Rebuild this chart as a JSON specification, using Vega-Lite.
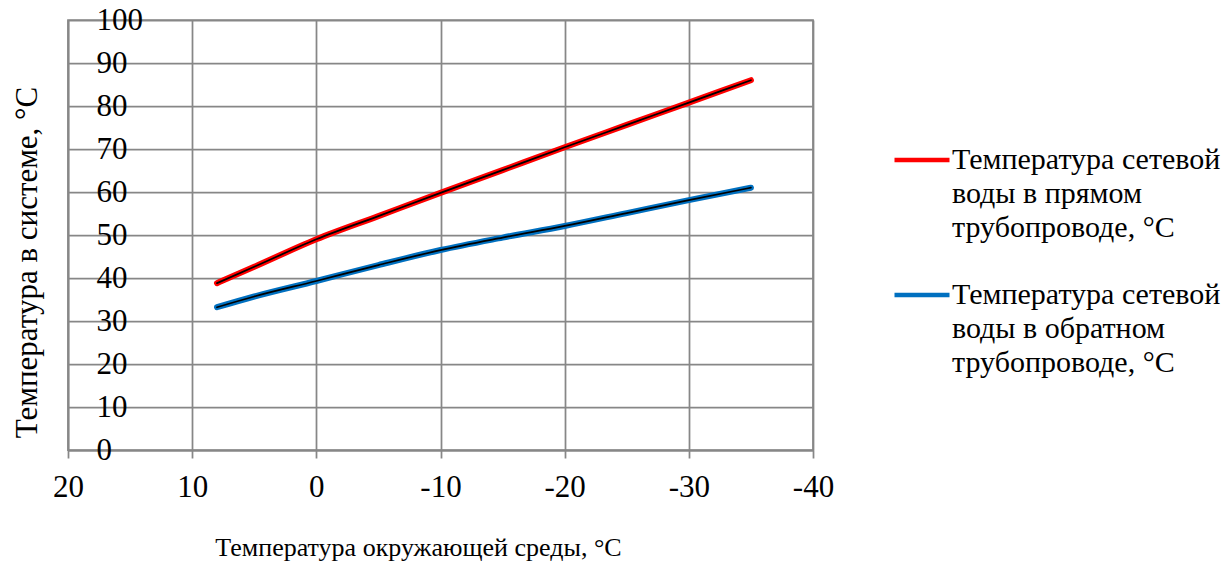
{
  "$schema": "https://vega.github.io/schema/vega-lite/v6.json",
  "width": 745,
  "height": 430,
  "autosize": {"type": "none"},
  "padding": {"left": 68, "top": 20, "right": 419, "bottom": 114},
  "background": "white",
  "config": {
    "font": "Liberation Serif",
    "axis": {"labelFont": "Liberation Serif", "titleFont": "Liberation Serif"},
    "legend": {"labelFont": "Liberation Serif", "titleFont": "Liberation Serif"},
    "view": {"stroke": "#878787", "strokeWidth": 1.75},
    "style": {"guide-label": {"lineHeight": 34}}
  },
  "data": {
    "values": [
      {"t": 8, "v": 38.8, "s": "Температура сетевой воды в прямом трубопроводе, °C"},
      {"t": 5, "v": 42.6, "s": "Температура сетевой воды в прямом трубопроводе, °C"},
      {"t": 0, "v": 49.0, "s": "Температура сетевой воды в прямом трубопроводе, °C"},
      {"t": -5, "v": 54.4, "s": "Температура сетевой воды в прямом трубопроводе, °C"},
      {"t": -10, "v": 59.8, "s": "Температура сетевой воды в прямом трубопроводе, °C"},
      {"t": -15, "v": 65.1, "s": "Температура сетевой воды в прямом трубопроводе, °C"},
      {"t": -20, "v": 70.4, "s": "Температура сетевой воды в прямом трубопроводе, °C"},
      {"t": -25, "v": 75.6, "s": "Температура сетевой воды в прямом трубопроводе, °C"},
      {"t": -30, "v": 80.8, "s": "Температура сетевой воды в прямом трубопроводе, °C"},
      {"t": -35, "v": 86.0, "s": "Температура сетевой воды в прямом трубопроводе, °C"},
      {"t": 8, "v": 33.2, "s": "Температура сетевой воды в обратном трубопроводе, °C"},
      {"t": 5, "v": 35.7, "s": "Температура сетевой воды в обратном трубопроводе, °C"},
      {"t": 0, "v": 39.3, "s": "Температура сетевой воды в обратном трубопроводе, °C"},
      {"t": -5, "v": 43.0, "s": "Температура сетевой воды в обратном трубопроводе, °C"},
      {"t": -10, "v": 46.5, "s": "Температура сетевой воды в обратном трубопроводе, °C"},
      {"t": -15, "v": 49.4, "s": "Температура сетевой воды в обратном трубопроводе, °C"},
      {"t": -20, "v": 52.1, "s": "Температура сетевой воды в обратном трубопроводе, °C"},
      {"t": -25, "v": 55.1, "s": "Температура сетевой воды в обратном трубопроводе, °C"},
      {"t": -30, "v": 58.1, "s": "Температура сетевой воды в обратном трубопроводе, °C"},
      {"t": -35, "v": 61.0, "s": "Температура сетевой воды в обратном трубопроводе, °C"}
    ]
  },
  "encoding": {
    "x": {
      "field": "t", "type": "quantitative",
      "scale": {"domain": [-40, 20], "reverse": true, "nice": false, "zero": false},
      "axis": {
        "title": "Температура окружающей среды, °C",
        "values": [20, 10, 0, -10, -20, -30, -40],
        "labelExpr": "'' + datum.value",
        "labelFontSize": 31, "labelColor": "black", "labelBaseline": "top",
        "labelPadding": 14, "tickSize": 8, "tickColor": "#878787", "tickWidth": 1.75,
        "labelFlush": false, "labelOverlap": false,
        "domainColor": "#878787", "domainWidth": 1.75,
        "gridColor": "#878787", "gridWidth": 1.75, "gridOpacity": 1,
        "titleFontSize": 26, "titleFontWeight": "normal", "titleColor": "black",
        "titleX": 350, "titleY": 97, "titleBaseline": "middle", "titleAlign": "center"
      }
    },
    "y": {
      "field": "v", "type": "quantitative",
      "scale": {"domain": [0, 100], "nice": false},
      "axis": {
        "title": "Температура в системе, °C",
        "values": [0, 10, 20, 30, 40, 50, 60, 70, 80, 90, 100],
        "labelFontSize": 31, "labelColor": "black", "labelAlign": "left", "labelBaseline": "middle",
        "labelPadding": -28, "tickSize": 0, "ticks": false,
        "labelFlush": false, "labelOverlap": false,
        "domainColor": "#878787", "domainWidth": 1.75,
        "gridColor": "#878787", "gridWidth": 1.75, "gridOpacity": 1,
        "titleFontSize": 31, "titleFontWeight": "normal", "titleColor": "black",
        "titleAngle": -90, "titleX": -41, "titleY": 242, "titleBaseline": "middle", "titleAlign": "center"
      }
    }
  },
  "layer": [
    {
      "mark": {"type": "line", "strokeWidth": 6, "strokeCap": "round", "strokeJoin": "round", "interpolate": "monotone"},
      "encoding": {
        "color": {
          "field": "s", "type": "nominal",
          "scale": {
            "domain": ["Температура сетевой воды в прямом трубопроводе, °C", "Температура сетевой воды в обратном трубопроводе, °C"],
            "range": ["#FF0000", "#0070C0"]
          },
          "legend": {
            "title": null,
            "orient": "none",
            "legendX": 824,
            "legendY": 110,
            "symbolType": "stroke",
            "symbolSize": 3025,
            "symbolStrokeWidth": 4.5,
            "labelFontSize": 30,
            "labelColor": "black",
            "labelLimit": 0,
            "labelOffset": 0,
            "labelBaseline": "middle",
            "rowPadding": 22,
            "labelExpr": "indexof(datum.label, 'прямом') >= 0 ? ['Температура сетевой', 'воды в прямом', 'трубопроводе, °C'] : ['Температура сетевой', 'воды в обратном', 'трубопроводе, °C']"
          }
        }
      }
    },
    {
      "mark": {"type": "line", "strokeWidth": 1.75, "color": "black", "strokeCap": "round", "interpolate": "monotone"},
      "encoding": {"detail": {"field": "s", "type": "nominal"}}
    }
  ]
}
